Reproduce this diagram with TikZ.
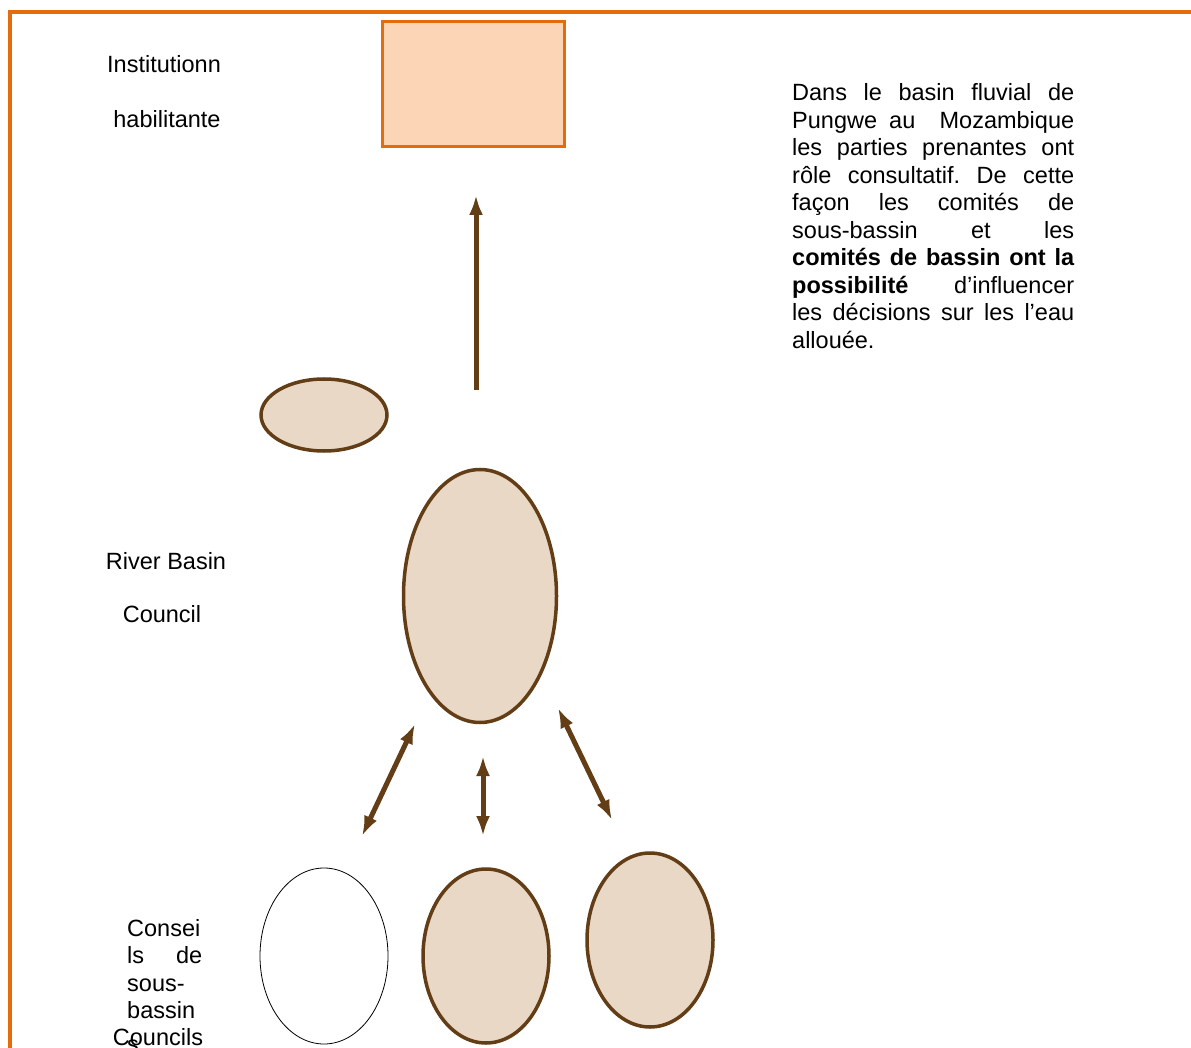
\documentclass[tikz,border=0pt]{standalone}
\usepackage{fontspec}
\setmainfont{Liberation Sans}
\frenchspacing
\usepackage{tikz}
\usetikzlibrary{positioning,shapes.geometric,arrows.meta}
\definecolor{frameorange}{HTML}{E46C0A}
\definecolor{peach}{HTML}{FBD5B5}
\definecolor{tan}{HTML}{E8D8C5}
\definecolor{darkbrown}{HTML}{633D16}

\begin{document}
\begin{tikzpicture}[
	x=1pt, y=-1pt,
	txt/.style={
		inner sep=0pt,
		font=\fontsize{23.5pt}{27.5pt}\selectfont
	},
	inst/.style={
		draw=frameorange,
		fill=peach,
		line width=3.5pt,
		minimum width=182pt,
		minimum height=125pt,
		inner sep=0pt
	},
	body/.style={
		draw=darkbrown,
		fill=tan,
		ellipse,
		line width=3.5pt,
		inner sep=0pt
	},
	empty/.style={
		draw=black,
		fill=white,
		ellipse,
		line width=0.8pt,
		inner sep=0pt,
		minimum width=128pt,
		minimum height=176pt
	},
	link/.style={
		draw=darkbrown,
		line width=5pt,
		-{Latex[length=20pt,width=14pt]}
	},
	both/.style={
		link,
		{Latex[length=20pt,width=14pt]}-{Latex[length=20pt,width=14pt]}
	}
	]
	\useasboundingbox (0,0) rectangle (1191,1048);
	\draw[frameorange, line width=3.5pt] (10,1050) -- (10,12) -- (1193,12);

	\node[inst] at (473.5,84) (habil) {};

	\node[body, minimum width=126pt, minimum height=72pt] at (324,415) (small) {};
	\node[body, minimum width=153pt, minimum height=253pt] at (480,596) (rbc) {};

	\node[empty] at (324,956) (sb1) {};
	\node[body, minimum width=126pt, minimum height=174pt] at (486,956) (sb2) {};
	\node[body, minimum width=126pt, minimum height=174pt] at (650,940) (sb3) {};

	\node[txt] at (164,64) (inst1) {Institutionn};
	\node[txt] at (167,119) (inst2) {habilitante};
	\node[txt] at (166,561) (river1) {River Basin};
	\node[txt] at (162,614) (river2) {Council};

	\node[txt, anchor=north west, align=left] at (127,919) (conseil) {%
		Consei\\
		\makebox[75pt][s]{ls de}\\
		sous-\\
		bassin};
	\node[txt] at (133,1046) (stray) {s};
	\node[txt] at (158,1037) (councils) {Councils};

	\node[txt, anchor=north west, align=left] at (792,83.5) (note) {%
		\makebox[282pt][s]{Dans le basin fluvial de}\\
		\makebox[282pt][s]{Pungwe au\ \ Mozambique}\\
		\makebox[282pt][s]{les parties prenantes ont}\\
		\makebox[282pt][s]{rôle consultatif. De cette}\\
		\makebox[282pt][s]{façon les comités de}\\
		\makebox[282pt][s]{sous-bassin et les}\\
		\makebox[282pt][s]{\bfseries comités de bassin ont la}\\
		\makebox[282pt][s]{\bfseries possibilité\mdseries\ d’influencer}\\
		\makebox[282pt][s]{les décisions sur les l’eau}\\
		allouée.};

	\coordinate (up0) at (476,390);
	\coordinate (up1) at (476,195);
	\coordinate (l0) at (415,724);
	\coordinate (l1) at (362,836);
	\coordinate (m0) at (483,756);
	\coordinate (m1) at (483,836);
	\coordinate (r0) at (558,708);
	\coordinate (r1) at (612,820);

	\draw[link] (up0) -- (up1);
	\draw[both] (l0) -- (l1);
	\draw[both] (m0) -- (m1);
	\draw[both] (r0) -- (r1);

\end{tikzpicture}
\end{document}
